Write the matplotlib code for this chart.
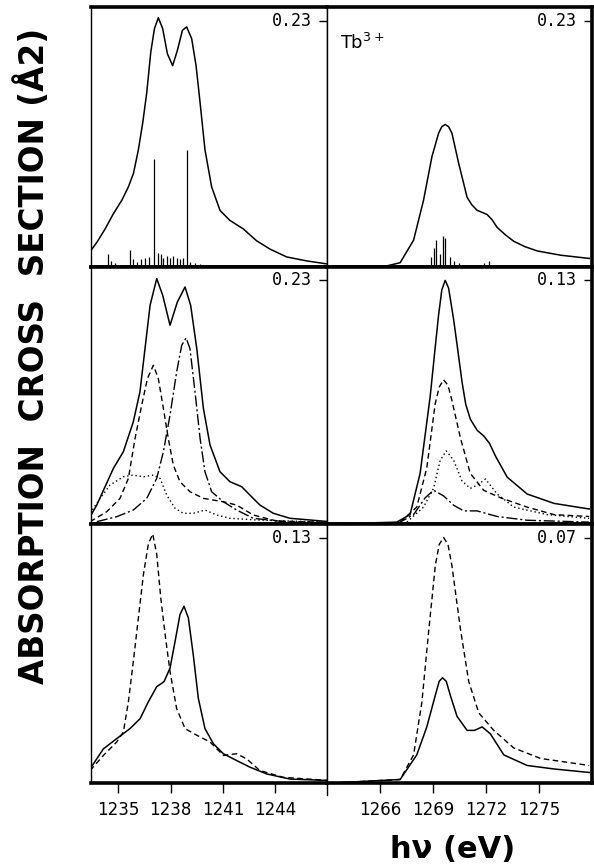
import matplotlib
matplotlib.use("Agg")
import matplotlib.pyplot as plt

# ---------------- data ----------------
xlim_left = (1233.45, 1246.95)
xlim_right = (1263.0, 1278.0)
xticks_left = [1235, 1238, 1241, 1244]
xticks_right = [1266, 1269, 1272, 1275]

# value of the top tick in each panel (rows top->bottom, cols left/right)
scale_labels = [[0.23, 0.23], [0.23, 0.13], [0.13, 0.07]]

# Row 1, left: total spectrum + stick spectrum
r1l_x = [1233.4, 1233.78, 1234.26, 1234.73, 1235.21, 1235.59, 1235.88, 1236.16,
         1236.41, 1236.64, 1236.87, 1237.08, 1237.3, 1237.55, 1237.82, 1238.12,
         1238.39, 1238.68, 1238.92, 1239.21, 1239.46, 1239.69, 1239.97, 1240.35,
         1240.83, 1241.4, 1242.16, 1242.92, 1243.69, 1244.64, 1245.78, 1247.1]
r1l_y = [0.0144, 0.0229, 0.0356, 0.0497, 0.0622, 0.0748, 0.0874, 0.1094,
         0.1346, 0.1629, 0.2006, 0.2225, 0.2326, 0.2225, 0.1990, 0.1879,
         0.2021, 0.2209, 0.2241, 0.2131, 0.1879, 0.1534, 0.1094, 0.0748,
         0.0528, 0.0434, 0.0356, 0.0245, 0.0167, 0.0094, 0.0057, 0.0025]
r1l_stick_x = [1234.45, 1234.58, 1234.83, 1235.69, 1235.84, 1236.07, 1236.3, 1236.54,
               1236.79, 1237.08, 1237.3, 1237.44, 1237.59, 1237.78, 1237.97, 1238.16,
               1238.35, 1238.54, 1238.73, 1238.93, 1239.11, 1239.4, 1239.69]
r1l_stick_y = [0.012, 0.006, 0.004, 0.016, 0.007, 0.005, 0.007, 0.008,
               0.009, 0.101, 0.013, 0.012, 0.008, 0.010, 0.008, 0.010,
               0.008, 0.007, 0.008, 0.109, 0.005, 0.004, 0.003]

# Row 1, right
r1r_x = [1263.33, 1266.38, 1267.14, 1267.9, 1268.46, 1268.94, 1269.32, 1269.5,
         1269.69, 1269.88, 1270.07, 1270.45, 1270.93, 1271.2, 1271.49, 1272.06,
         1272.35, 1272.63, 1273.1, 1273.57, 1274.2, 1274.9, 1276.23, 1277.84]
r1r_y = [0.001, 0.001, 0.004, 0.025, 0.062, 0.103, 0.125, 0.131,
         0.133, 0.131, 0.125, 0.097, 0.065, 0.058, 0.053, 0.049,
         0.044, 0.037, 0.030, 0.024, 0.019, 0.015, 0.011, 0.008]
r1r_stick_x = [1268.9, 1269.03, 1269.18, 1269.37, 1269.56, 1269.69, 1269.98,
               1270.17, 1270.45, 1271.87, 1272.15]
r1r_stick_y = [0.009, 0.018, 0.025, 0.012, 0.029, 0.027, 0.009,
               0.006, 0.004, 0.004, 0.006]

# Row 2, left: total (solid), dashed, dash-dot, dotted components
r2l_tot_x = [1233.4, 1233.78, 1234.73, 1235.3, 1235.87, 1236.25, 1236.54, 1236.83,
             1237.21, 1237.55, 1237.97, 1238.39, 1238.83, 1239.15, 1239.5, 1239.88,
             1240.26, 1240.83, 1241.4, 1242.07, 1242.54, 1243.11, 1243.88, 1244.83,
             1247.1]
r2l_tot_y = [0.0069, 0.0179, 0.0525, 0.0682, 0.0965, 0.1248, 0.1657, 0.2065,
             0.2317, 0.2160, 0.1877, 0.2096, 0.2238, 0.2065, 0.1657, 0.1091,
             0.0745, 0.0493, 0.0399, 0.0352, 0.0273, 0.0179, 0.0101, 0.0054,
             0.0022]
r2l_dash_x = [1233.4, 1234.35, 1235.11, 1235.59, 1235.97, 1236.35, 1236.68, 1237.02,
              1237.3, 1237.59, 1237.87, 1238.16, 1238.54, 1239.11, 1239.88, 1241.02,
              1241.78, 1242.73, 1244.07, 1247.1]
r2l_dash_y = [0.0022, 0.0116, 0.0242, 0.0431, 0.0808, 0.1122, 0.1374, 0.1499,
              0.1374, 0.1091, 0.0808, 0.0556, 0.0399, 0.0305, 0.0242, 0.0210,
              0.0179, 0.0085, 0.0028, 0.0015]
r2l_dd_x = [1233.78, 1234.92, 1235.87, 1236.64, 1237.21, 1237.59, 1237.97, 1238.35,
            1238.64, 1238.89, 1239.11, 1239.4, 1239.69, 1239.97, 1240.35, 1241.02,
            1241.78, 1242.73, 1244.83, 1247.1]
r2l_dd_y = [0.0022, 0.0069, 0.0132, 0.0242, 0.0431, 0.0682, 0.1028, 0.1436,
            0.1688, 0.1757, 0.1657, 0.1248, 0.0808, 0.0493, 0.0305, 0.0210,
            0.0132, 0.0054, 0.0016, 0.0012]
r2l_dot_x = [1233.4, 1233.97, 1234.54, 1235.3, 1235.87, 1236.45, 1237.02, 1237.4,
             1237.78, 1238.26, 1238.73, 1239.3, 1239.97, 1240.64, 1241.4, 1242.92,
             1247.1]
r2l_dot_y = [0.0101, 0.0242, 0.0368, 0.0446, 0.0462, 0.0446, 0.0462, 0.0431,
             0.0273, 0.0148, 0.0101, 0.0101, 0.0132, 0.0085, 0.0054, 0.0038,
             0.0016]

# Row 2, right
r2r_tot_x = [1263.35, 1266.95, 1267.7, 1268.27, 1268.84, 1269.1, 1269.31, 1269.5,
             1269.69, 1269.88, 1270.17, 1270.4, 1270.64, 1270.85, 1271.11, 1271.5,
             1271.87, 1272.2, 1272.55, 1273.2, 1274.33, 1275.85, 1277.84]
r2r_tot_y = [0.0, 0.001, 0.005, 0.027, 0.068, 0.092, 0.111, 0.125,
             0.130, 0.126, 0.109, 0.093, 0.076, 0.064, 0.056, 0.050,
             0.047, 0.043, 0.036, 0.025, 0.016, 0.011, 0.008]
r2r_dash_x = [1267.14, 1268.08, 1268.65, 1269.12, 1269.35, 1269.6, 1269.85, 1270.07,
              1270.55, 1271.11, 1271.87, 1272.82, 1274.33, 1275.85, 1277.84]
r2r_dash_y = [0.001, 0.009, 0.030, 0.064, 0.073, 0.077, 0.074, 0.066,
              0.046, 0.027, 0.018, 0.014, 0.009, 0.005, 0.004]
r2r_dot_x = [1267.52, 1268.46, 1269.03, 1269.41, 1269.75, 1270.17, 1270.64, 1271.11,
             1271.55, 1271.97, 1272.63, 1273.57, 1275.47, 1277.84]
r2r_dot_y = [0.001, 0.009, 0.019, 0.034, 0.039, 0.034, 0.023, 0.019,
             0.021, 0.024, 0.016, 0.009, 0.005, 0.003]
r2r_dd_x = [1266.95, 1267.9, 1268.56, 1269.03, 1269.6, 1270.17, 1270.74, 1271.49,
            1272.63, 1274.33, 1277.84]
r2r_dd_y = [0.0, 0.005, 0.014, 0.018, 0.015, 0.010, 0.007, 0.007,
            0.004, 0.002, 0.001]

# Row 3, left
r3l_dash_x = [1233.4, 1234.16, 1234.92, 1235.3, 1235.59, 1235.87, 1236.16, 1236.45,
              1236.73, 1236.98, 1237.21, 1237.44, 1237.69, 1237.97, 1238.35, 1238.83,
              1239.5, 1240.26, 1241.02, 1241.78, 1242.35, 1243.11, 1244.45, 1247.1]
r3l_dash_y = [0.0066, 0.0146, 0.0217, 0.0270, 0.0430, 0.0643, 0.0874, 0.1105,
              0.1265, 0.1319, 0.1212, 0.0981, 0.0786, 0.0590, 0.0394, 0.0288,
              0.0253, 0.0217, 0.0146, 0.0155, 0.0128, 0.0066, 0.0030, 0.0013]
r3l_sol_x = [1233.4, 1234.16, 1234.92, 1235.68, 1236.26, 1236.73, 1237.21, 1237.63,
             1237.97, 1238.26, 1238.54, 1238.77, 1239.02, 1239.3, 1239.59, 1239.97,
             1240.45, 1241.02, 1241.78, 1242.54, 1243.5, 1244.83, 1247.1]
r3l_sol_y = [0.0075, 0.0181, 0.0235, 0.0288, 0.0341, 0.0430, 0.0510, 0.0537,
             0.0608, 0.0750, 0.0892, 0.0936, 0.0874, 0.0679, 0.0448, 0.0288,
             0.0208, 0.0155, 0.0119, 0.0084, 0.0048, 0.0021, 0.0013]

# Row 3, right
r3r_dash_x = [1263.3, 1267.14, 1267.9, 1268.37, 1268.75, 1269.13, 1269.35, 1269.6,
              1269.85, 1270.07, 1270.55, 1271.02, 1271.59, 1272.44, 1273.57, 1275.09,
              1277.84]
r3r_dash_y = [0.0, 0.001, 0.008, 0.023, 0.043, 0.062, 0.068, 0.070,
              0.068, 0.062, 0.044, 0.029, 0.020, 0.015, 0.010, 0.007,
              0.005]
r3r_sol_x = [1263.3, 1267.14, 1268.08, 1268.65, 1269.13, 1269.35, 1269.54, 1269.75,
             1269.98, 1270.36, 1270.93, 1271.35, 1271.78, 1272.25, 1273.01, 1274.33,
             1275.85, 1277.84]
r3r_sol_y = [0.0, 0.001, 0.008, 0.016, 0.025, 0.029, 0.030, 0.029,
             0.025, 0.019, 0.015, 0.015, 0.016, 0.014, 0.008, 0.005,
             0.004, 0.003]

# ---------------- styles ----------------
SOLID = dict(color="black", lw=1.1, ls="-")
DASH = dict(color="black", lw=1.0, ls=(0, (4, 2.5)))
DOT = dict(color="black", lw=1.0, ls=(0, (1, 2)))
DASHDOT = dict(color="black", lw=1.0, ls=(0, (8, 2, 1.5, 2)))

fig = plt.figure(figsize=(5.94, 8.66), dpi=100)

W, H = 594.0, 866.0
xl = [91, 327, 592]
yr = [7, 267, 524, 783]

axes = []
for r in range(3):
    row = []
    for c in range(2):
        left = xl[c] / W
        width = (xl[c + 1] - xl[c]) / W
        bottom = (H - yr[r + 1]) / H
        height = (yr[r + 1] - yr[r]) / H
        row.append(fig.add_axes([left, bottom, width, height]))
    axes.append(row)

panel_data = {
    (0, 0): [(r1l_x, r1l_y, SOLID)],
    (0, 1): [(r1r_x, r1r_y, SOLID)],
    (1, 0): [(r2l_tot_x, r2l_tot_y, SOLID), (r2l_dash_x, r2l_dash_y, DASH),
             (r2l_dd_x, r2l_dd_y, DASHDOT), (r2l_dot_x, r2l_dot_y, DOT)],
    (1, 1): [(r2r_tot_x, r2r_tot_y, SOLID), (r2r_dash_x, r2r_dash_y, DASH),
             (r2r_dot_x, r2r_dot_y, DOT), (r2r_dd_x, r2r_dd_y, DASHDOT)],
    (2, 0): [(r3l_dash_x, r3l_dash_y, DASH), (r3l_sol_x, r3l_sol_y, SOLID)],
    (2, 1): [(r3r_dash_x, r3r_dash_y, DASH), (r3r_sol_x, r3r_sol_y, SOLID)],
}

for r in range(3):
    for c in range(2):
        ax = axes[r][c]
        lv = scale_labels[r][c]
        for x, y, st in panel_data[(r, c)]:
            ax.plot(x, y, **st)
        ax.set_xlim(*(xlim_left if c == 0 else xlim_right))
        ax.set_ylim(0, lv * 1.055)
        for s in ["top", "bottom"]:
            ax.spines[s].set_linewidth(2.6)
        ax.spines["left"].set_linewidth(1.0)
        ax.spines["right"].set_linewidth(1.0 if c == 0 else 2.6)
        ax.yaxis.tick_right()
        ax.set_yticks([lv])
        ax.set_yticklabels([])
        ax.tick_params(axis="y", direction="in", length=6, width=1)
        ax.annotate(f"{lv:.2f}", xy=(1, lv), xycoords=("axes fraction", "data"),
                    xytext=(-11, 0), textcoords="offset points",
                    ha="right", va="center", fontsize=12,
                    family="DejaVu Sans Mono")
        if r < 2:
            ax.set_xticks([])
        else:
            ax.set_xticks(xticks_left if c == 0 else xticks_right)
            ax.tick_params(axis="x", direction="out", length=7, width=1,
                           labelsize=12, pad=6)
            if c == 0:
                ax.plot([1, 1], [0, -0.045], transform=ax.transAxes,
                        color="black", lw=1.0, clip_on=False)

axes[0][0].vlines(r1l_stick_x, 0, r1l_stick_y, color="black", lw=0.9)
axes[0][1].vlines(r1r_stick_x, 0, r1r_stick_y, color="black", lw=0.9)

axes[0][1].text(0.05, 0.86, "Tb$^{3+}$", transform=axes[0][1].transAxes,
                fontsize=13, ha="left", va="center")

fig.text(33 / W, 1 - 356 / H, "ABSORPTION  CROSS  SECTION (Å2)", rotation=90,
         ha="center", va="center", fontsize=23.5, fontweight="bold")
fig.text(453 / W, 1 - 850 / H, "hν (eV)", ha="center", va="center",
         fontsize=22, fontweight="bold")

fig.savefig("out.png", dpi=100)
